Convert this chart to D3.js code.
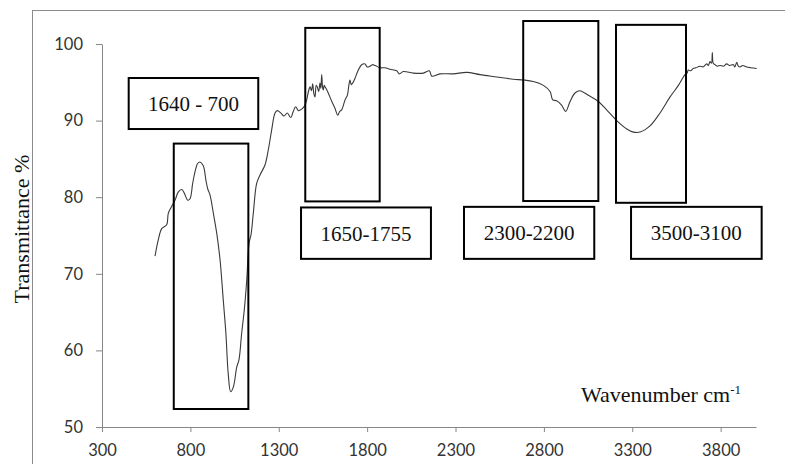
<!DOCTYPE html>
<html lang="en">
<head>
    <meta charset="UTF-8">
    <title>FTIR spectrum</title>
    <script src="https://cdnjs.cloudflare.com/ajax/libs/d3/7.8.5/d3.min.js"></script>
    <style>
        body { margin: 0; background: #fff; }
        .tick text { font-family: Lato, sans-serif; font-size: 16.5px; fill: #333; }
        .tick line, .domain { stroke: #868686; }
        .serif { font-family: "Liberation Serif", serif; fill: #111; }
    </style>
</head>
<body>
    <div id="chart"></div>
    <script>
        // Spectrum (wavenumber cm-1, transmittance %)
        const wavenumber = [600, 618, 638, 666, 675, 694, 713, 732, 751, 766, 785, 798, 813, 826, 841, 854, 873, 888, 898, 911,
            930, 949, 968, 986, 1001, 1014, 1028, 1043, 1062, 1075, 1090, 1105, 1119, 1132, 1143, 1156, 1175, 1194, 1222, 1241,
            1260, 1279, 1292, 1311, 1330, 1348, 1368, 1382, 1396, 1411, 1430, 1448, 1458, 1468, 1477, 1485, 1492, 1498, 1505, 1512,
            1518, 1526, 1533, 1538, 1543, 1548, 1552, 1557, 1562, 1570, 1580, 1600, 1618, 1634, 1645, 1656, 1675, 1688, 1696, 1703,
            1710, 1718, 1731, 1750, 1769, 1788, 1800, 1816, 1830, 1845, 1873, 1900, 1929, 1967, 1982, 2005, 2061, 2118, 2152, 2166,
            2212, 2288, 2363, 2439, 2533, 2627, 2684, 2740, 2797, 2835, 2850, 2872, 2901, 2923, 2948, 2976, 3004, 3051, 3108, 3155,
            3212, 3269, 3306, 3344, 3400, 3457, 3514, 3561, 3598, 3610, 3617, 3630, 3645, 3660, 3683, 3700, 3721, 3730, 3740, 3748,
            3753, 3758, 3768, 3780, 3797, 3815, 3834, 3850, 3872, 3880, 3891, 3900, 3910, 3925, 3947, 3970, 4004];
        const transmittance = [72.3, 74.4, 75.9, 76.4, 77.9, 78.8, 79.6, 80.7, 81.0, 80.5, 79.6, 79.8, 81.8, 83.3, 84.4, 84.6, 84.1, 82.2, 81.1, 80.3,
            77.9, 75.3, 71.8, 66.6, 62.2, 57.0, 54.6, 55.2, 57.8, 58.8, 62.2, 65.3, 69.2, 74.0, 75.1, 77.9, 81.8, 82.9, 84.2, 86.2,
            88.8, 91.0, 91.3, 91.0, 90.6, 91.0, 90.4, 91.2, 91.8, 91.3, 91.5, 92.0, 92.7, 93.8, 94.4, 93.9, 94.8, 93.6, 93.1, 94.6,
            94.4, 93.8, 94.9, 94.2, 96.0, 94.3, 94.0, 94.6, 94.4, 94.1, 93.6, 92.5, 91.6, 90.7, 91.2, 91.4, 92.7, 93.3, 94.5, 95.3,
            94.7, 94.9, 95.5, 96.6, 97.3, 97.4, 97.0, 97.1, 97.3, 97.2, 96.9, 96.9, 96.7, 96.5, 96.1, 96.4, 96.2, 96.2, 96.5, 95.8,
            96.1, 96.1, 96.3, 96.0, 95.7, 95.4, 95.3, 95.1, 94.6, 93.8, 92.7, 92.6, 92.0, 91.2, 92.5, 93.6, 93.9, 93.3, 92.5, 91.4,
            90.0, 88.9, 88.5, 88.5, 89.3, 91.0, 93.1, 94.6, 96.0, 96.2, 96.6, 96.5, 96.8, 96.9, 97.1, 97.0, 97.4, 97.2, 97.7, 97.5,
            98.9, 97.5, 97.3, 97.1, 97.2, 97.1, 97.4, 97.2, 97.3, 97.0, 97.6, 97.1, 97.0, 97.2, 97.0, 96.9, 96.8];

        // Axis ticks
        const xTicks = [300, 800, 1300, 1800, 2300, 2800, 3300, 3800];
        const yTicks = [50, 60, 70, 80, 90, 100];

        // Highlighted regions: [wavenumber from, to, transmittance from, to]
        const regionBoxes = [[706, 1128, 52.35, 87.0], [1450, 1871, 79.45, 102.1],
            [2683, 3108, 79.5, 103.0], [3208, 3604, 79.27, 102.5]];
        // Label boxes in the same units, with their texts
        const labelBoxes = [[451, 1184, 88.9, 95.56], [1426, 2161, 71.95, 78.66],
            [2348, 3085, 71.95, 78.74], [3293, 4032, 71.95, 78.74]];
        const labelTexts = ["1640 - 700", "1650-1755", "2300-2200", "3500-3100"];

        const width = 785, height = 464;
        const margin = { top: 44, right: 29, bottom: 37, left: 102 };

        const svg = d3.select("#chart").append("svg")
            .attr("width", width)
            .attr("height", height);

        // chart area frame
        svg.append("rect")
            .attr("x", 32.5).attr("y", 10.5)
            .attr("width", 800).attr("height", 500)
            .attr("fill", "none")
            .attr("stroke", "#8c8c8c");

        const x = d3.scaleLinear().domain([300, 4000]).range([margin.left, width - margin.right]);
        const y = d3.scaleLinear().domain([50, 100]).range([height - margin.bottom, margin.top]);

        svg.append("g")
            .attr("transform", `translate(0,${y(50)})`)
            .call(d3.axisBottom(x).tickValues(xTicks).tickFormat(d3.format("d"))
                .tickSize(5).tickSizeOuter(0).tickPadding(12))
            .call(g => g.selectAll(".tick text").attr("dy", "0.71em"));

        svg.append("g")
            .attr("transform", `translate(${x(300)},0)`)
            .call(d3.axisLeft(y).tickValues(yTicks).tickSize(6).tickSizeOuter(0).tickPadding(13));

        // spectrum
        const line = d3.line()
            .x((d, i) => x(wavenumber[i]))
            .y(d => y(d))
            .curve(d3.curveCatmullRom.alpha(0.5));

        svg.append("path")
            .datum(transmittance)
            .attr("fill", "none")
            .attr("stroke", "#3a3a3a")
            .attr("stroke-width", 1.1)
            .attr("d", line);

        // region boxes
        svg.append("g").selectAll("rect")
            .data(regionBoxes)
            .join("rect")
            .attr("x", d => x(d[0]))
            .attr("y", d => y(d[3]))
            .attr("width", d => x(d[1]) - x(d[0]))
            .attr("height", d => y(d[2]) - y(d[3]))
            .attr("fill", "none")
            .attr("stroke", "#000")
            .attr("stroke-width", 2);

        // label boxes
        const labels = svg.append("g").selectAll("g")
            .data(labelBoxes)
            .join("g");

        labels.append("rect")
            .attr("x", d => x(d[0]))
            .attr("y", d => y(d[3]))
            .attr("width", d => x(d[1]) - x(d[0]))
            .attr("height", d => y(d[2]) - y(d[3]))
            .attr("fill", "#fff")
            .attr("stroke", "#000")
            .attr("stroke-width", 2);

        labels.append("text")
            .attr("class", "serif")
            .attr("x", d => (x(d[0]) + x(d[1])) / 2)
            .attr("y", d => (y(d[2]) + y(d[3])) / 2 + 7.5)
            .attr("text-anchor", "middle")
            .style("font-size", "21px")
            .text((d, i) => labelTexts[i]);

        // axis titles
        svg.append("text")
            .attr("class", "serif")
            .attr("transform", "translate(29,229) rotate(-90)")
            .attr("text-anchor", "middle")
            .style("font-size", "22px")
            .text("Transmittance %");

        const xt = svg.append("text")
            .attr("class", "serif")
            .attr("x", 741)
            .attr("y", 402)
            .attr("text-anchor", "end")
            .style("font-size", "22px");
        xt.append("tspan").text("Wavenumber cm");
        xt.append("tspan").attr("dy", -8).style("font-size", "13px").text("-1");
    </script>
</body>
</html>
